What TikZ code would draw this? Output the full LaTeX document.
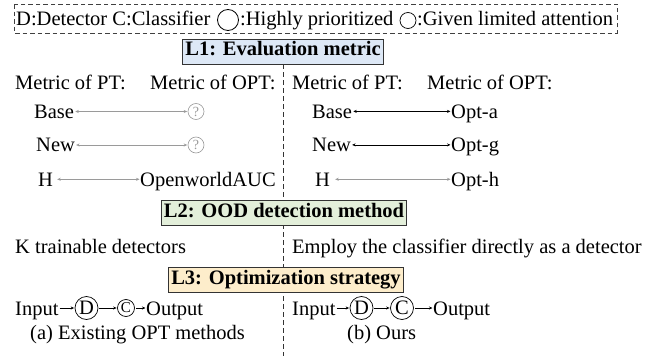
\documentclass[tikz,border=0pt]{standalone}
\usepackage{fontspec}
\setmainfont{Liberation Serif}
\usetikzlibrary{arrows.meta}
\definecolor{lonefill}{HTML}{DDE8F6}
\definecolor{ltwofill}{HTML}{E3EFDA}
\definecolor{lthreefill}{HTML}{FDEDCB}
\definecolor{softgray}{HTML}{9A9A9A}
\begin{document}
\begin{tikzpicture}[x=1pt,y=-1pt,
  font=\fontsize{20.5}{24}\selectfont,
  txt/.style={inner sep=0pt, anchor=base west},
  lvl/.style={draw=black!80, line width=0.9pt, inner xsep=2.5pt, inner ysep=3pt,
    text height=14pt, text depth=5pt, font=\fontsize{20.5}{24}\selectfont\bfseries},
  qmark/.style={circle, draw=softgray, line width=0.6pt, text=softgray, inner sep=0pt,
    minimum size=16pt, font=\fontsize{14}{14}\selectfont},
  bigc/.style={circle, draw, line width=0.7pt, inner sep=0pt, minimum size=23pt},
  smallc/.style={circle, draw, line width=0.7pt, inner sep=0pt, minimum size=17pt,
    font=\fontsize{15}{15}\selectfont},
  both/.style={{Stealth[length=3.5pt,width=3pt]}-{Stealth[length=3.5pt,width=3pt]},
    line width=0.7pt, shorten <=1pt, shorten >=0.5pt},
  grayboth/.style={both, draw=softgray},
  chain/.style={-{Stealth[length=3.5pt,width=3pt]}, line width=0.7pt, shorten <=1pt, shorten >=0.5pt},
  divider/.style={draw=black!80, line width=1pt, dash pattern=on 5pt off 3pt}]
\useasboundingbox (0,0) rectangle (657,356);

% legend
\draw[black!75, line width=0.8pt, dash pattern=on 4.5pt off 3pt] (14,4) rectangle (617,33);
\node[txt] (lgA) at (16,26) {D:Detector C:Classifier};
\node[circle, draw, line width=0.8pt, inner sep=0pt, minimum size=21pt] (lgC1) at (228,20) {};
\node[txt] (lgB) at (240,26) {:Highly prioritized};
\node[circle, draw, line width=0.7pt, inner sep=0pt, minimum size=16pt] (lgC2) at (408,20.5) {};
\node[txt] (lgD) at (417,26) {:Given limited attention};

% level L1 and the column divider
\node[lvl, fill=lonefill] (L1) at (283,51.5) {L1: Evaluation metric};
\coordinate (dbot) at (L1.south |- 0,356);
\draw[divider] (L1.south) -- (dbot);

% L1 rows, left column
\node[txt] (ptA) at (15,89) {Metric of PT:};
\node[txt] (optA) at (150,89) {Metric of OPT:};
\node[txt] (baseA) at (34,118) {Base};
\node[qmark] (qA) at (196,111.5) {?};
\node[txt] (newA) at (36,151.5) {New};
\node[qmark] (qB) at (196,145) {?};
\node[txt] (hA) at (38,186) {H};
\node[txt] (owA) at (140,186) {OpenworldAUC};
\draw[grayboth] (baseA.east |- qA) -- (qA.west);
\draw[grayboth] (newA.east |- qB) -- (qB.west);
\draw[grayboth, shorten <=4pt] (hA.east) -- (hA.east -| owA.west);

% L1 rows, right column
\node[txt] (ptB) at (292,89) {Metric of PT:};
\node[txt] (optB) at (427,89) {Metric of OPT:};
\node[txt] (baseB) at (312,118) {Base};
\node[txt] (optaB) at (451,118) {Opt-a};
\node[txt] (newB) at (312,151.5) {New};
\node[txt] (optgB) at (451,151.5) {Opt-g};
\node[txt] (hB) at (315,186) {H};
\node[txt] (opthB) at (451,186) {Opt-h};
\draw[both] (baseB.east) -- (baseB.east -| optaB.west);
\draw[both] (newB.east) -- (newB.east -| optgB.west);
\draw[grayboth, shorten <=5pt] (hB.east) -- (hB.east -| opthB.west);

% L2
\node[lvl, fill=ltwofill] (L2) at (284,212.5) {L2: OOD detection method};
\node[txt] (kA) at (15,253.5) {K trainable detectors};
\node[txt] (kB) at (292,253.5) {Employ the classifier directly as a detector};

% L3
\node[lvl, fill=lthreefill] (L3) at (286,279.5) {L3: Optimization strategy};

% pipelines
\node[txt] (inA) at (15,315) {Input};
\node[bigc] (dA) at (86.5,308) {D};
\node[smallc] (cA) at (126,308) {C};
\node[txt] (outA) at (146,315) {Output};
\draw[chain] (inA.east |- dA) -- (dA.west);
\draw[chain] (dA.east) -- (cA.west);
\draw[chain] (cA.east) -- (cA.east -| outA.west);

\node[txt] (inB) at (292,315) {Input};
\node[bigc] (dB) at (361.5,308) {D};
\node[bigc] (cB) at (402,308) {C};
\node[txt] (outB) at (433,315) {Output};
\draw[chain] (inB.east |- dB) -- (dB.west);
\draw[chain] (dB.east) -- (cB.west);
\draw[chain] (cB.east) -- (cB.east -| outB.west);

% captions
\node[txt] (capA) at (30,339) {(a) Existing OPT methods};
\node[txt] (capB) at (347,339) {(b) Ours};
\end{tikzpicture}
\end{document}
